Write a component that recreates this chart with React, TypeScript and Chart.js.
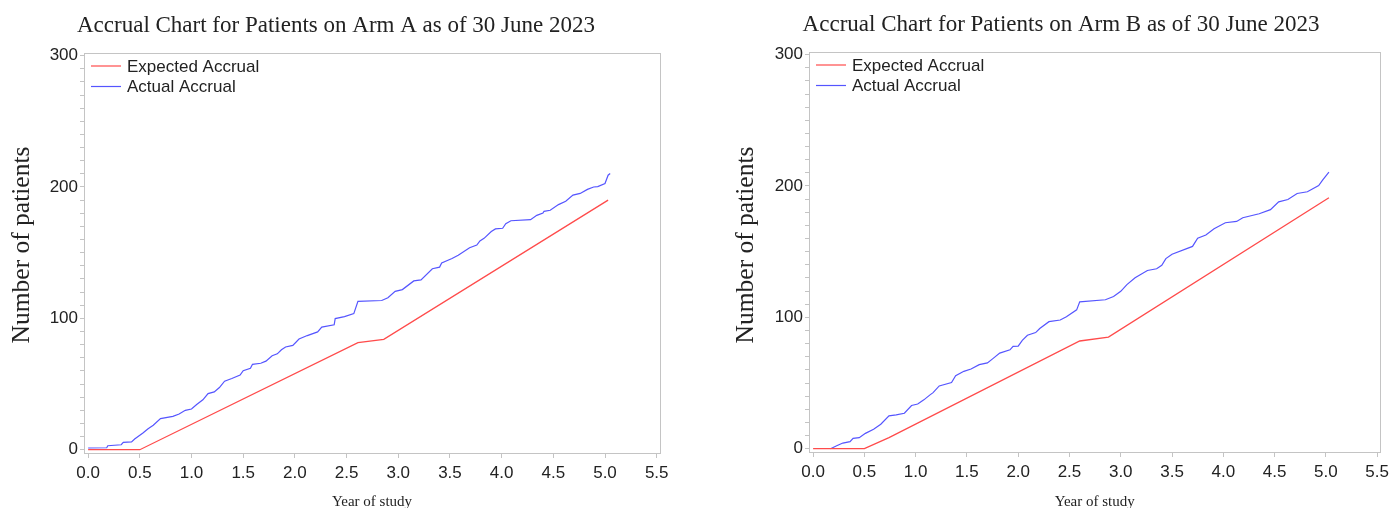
import React, { useEffect, useRef } from "react";
import { Chart, registerables } from "chart.js";

Chart.register(...registerables);

// ---------- data ----------
const titleA = "Accrual Chart for Patients on Arm A as of 30 June 2023";
const titleB = "Accrual Chart for Patients on Arm B as of 30 June 2023";
const legendLabels = ["Expected Accrual", "Actual Accrual"];
const xAxisTitle = "Year of study";
const yAxisTitle = "Number of patients";

const xTickValues = [0, 0.5, 1, 1.5, 2, 2.5, 3, 3.5, 4, 4.5, 5, 5.5];
const yTickValues = [
  0, 10, 20, 30, 40, 50, 60, 70, 80, 90, 100, 110, 120, 130, 140, 150, 160, 170, 180, 190, 200,
  210, 220, 230, 240, 250, 260, 270, 280, 290, 300,
];
const yLabelValues = [0, 100, 200, 300];

const armAExpectedYears = [0, 0.5, 2.61, 2.86, 5.03];
const armAExpectedCounts = [0, 0, 81.5, 84, 190];

const armAActualYears = [
  0.0, 0.18, 0.19, 0.32, 0.34, 0.42, 0.45, 0.53, 0.58, 0.63, 0.7, 0.82, 0.88, 0.94, 1.0, 1.05,
  1.11, 1.16, 1.22, 1.27, 1.32, 1.39, 1.47, 1.5, 1.57, 1.59, 1.67, 1.72, 1.78, 1.83, 1.87, 1.91,
  1.98, 2.04, 2.12, 2.22, 2.26, 2.38, 2.39, 2.48, 2.57, 2.61, 2.84, 2.9, 2.97, 3.04, 3.15, 3.22,
  3.33, 3.4, 3.42, 3.52, 3.58, 3.69, 3.76, 3.79, 3.83, 3.9, 3.94, 4.01, 4.04, 4.09, 4.28, 4.34,
  4.4, 4.41, 4.47, 4.55, 4.62, 4.69, 4.76, 4.83, 4.89, 4.93, 5.0, 5.03, 5.05,
];
const armAActualCounts = [
  1.3, 1.5, 3, 3.8, 5.6, 6, 8.1, 12.7, 16, 18.6, 23.7, 25.4, 27.2, 30, 31, 34.4,
  38, 42.7, 44, 47.3, 52.2, 54.2, 56.8, 60.2, 62, 65, 65.8, 67.4, 71.5, 73, 76.1, 78.2,
  79.4, 84.3, 86.9, 89.7, 93.3, 95.1, 99.8, 101.3, 103.6, 112.9, 113.6, 115.7, 120.6, 121.9, 128.5, 129.3,
  137.8, 139, 142.2, 145.5, 148.1, 153.7, 155.8, 158.9, 160.9, 166.1, 168.1, 168.6, 172, 174.3, 175.1, 178.4,
  180.2, 181.5, 182.3, 186.6, 189.2, 193.8, 195.1, 198.2, 200, 200.3, 202.6, 209, 210.3,
];

const armBExpectedYears = [0, 0.5, 0.74, 2.6, 2.88, 5.03];
const armBExpectedCounts = [0, 0, 8.5, 82, 85, 191];

const armBActualYears = [
  0.17, 0.23, 0.29, 0.36, 0.39, 0.45, 0.51, 0.59, 0.66, 0.74, 0.81, 0.89, 0.96, 1.02, 1.08, 1.14,
  1.17, 1.23, 1.35, 1.39, 1.47, 1.54, 1.62, 1.7, 1.75, 1.82, 1.92, 1.95, 2.0, 2.04, 2.09, 2.17,
  2.21, 2.3, 2.41, 2.47, 2.57, 2.6, 2.85, 2.93, 3.0, 3.06, 3.14, 3.26, 3.35, 3.4, 3.44, 3.5,
  3.7, 3.75, 3.83, 3.91, 4.02, 4.13, 4.19, 4.35, 4.46, 4.54, 4.63, 4.72, 4.82, 4.93, 4.97, 5.03,
];
const armBActualCounts = [
  0, 2.3, 4.3, 5.4, 7.9, 8.4, 11.7, 14.8, 18.6, 25, 25.8, 27, 32.9, 34, 37.2, 41,
  42.7, 47.8, 50.4, 55.5, 58.9, 60.7, 64, 65.3, 68.4, 72.8, 75.3, 77.9, 78.1, 82.5, 86.4, 88.4,
  91.5, 96.7, 98, 100.5, 105.7, 111.8, 113.4, 115.9, 119.8, 124.9, 130.1, 135.7, 137, 139.6, 144.7, 148.1,
  154, 160.2, 162.7, 167.4, 172, 173, 175.8, 178.9, 182, 187.9, 189.7, 194.3, 195.6, 200.3, 204.6, 210.5,
];

// ---------- style ----------
const SANS = '"Liberation Sans", Arial, sans-serif';
const SERIF = '"Liberation Serif", "Times New Roman", serif';
const RED = "rgb(255,75,75)";
const BLUE = "rgb(85,85,255)";
const AXIS = "#c4c4c4";
const TEXT = "#222222";

type PanelSpec = {
  title: string;
  expX: number[];
  expY: number[];
  actX: number[];
  actY: number[];
  width: number;
  left: number;
  yAxisWidth: number;
  xAxisHeight: number;
  padTop: number;
  padRight: number;
  titleX: number;
  titleY: number;
};

function toPoints(xs: number[], ys: number[]) {
  return xs.map((x, i) => ({ x, y: ys[i] }));
}

function Panel({ spec }: { spec: PanelSpec }) {
  const ref = useRef<HTMLCanvasElement | null>(null);
  useEffect(() => {
    if (!ref.current) return;
    const decor = {
      id: "decor",
      afterDraw(chart: any) {
        const { ctx, chartArea } = chart;
        ctx.save();
        // frame
        ctx.strokeStyle = AXIS;
        ctx.lineWidth = 1;
        ctx.strokeRect(
          Math.round(chartArea.left) + 0.5,
          Math.round(chartArea.top) + 0.5,
          Math.round(chartArea.right - chartArea.left),
          Math.round(chartArea.bottom - chartArea.top)
        );
        // title
        ctx.fillStyle = TEXT;
        ctx.font = `23px ${SERIF}`;
        ctx.textAlign = "center";
        ctx.textBaseline = "alphabetic";
        ctx.fillText(spec.title, spec.titleX, spec.titleY);
        // y-axis title
        ctx.save();
        ctx.translate(22, 245);
        ctx.rotate(-Math.PI / 2);
        ctx.font = `25.5px ${SERIF}`;
        ctx.textAlign = "center";
        ctx.textBaseline = "middle";
        ctx.fillText(yAxisTitle, 0, 0);
        ctx.restore();
        // legend
        const colors = [RED, BLUE];
        ctx.font = `17px ${SANS}`;
        ctx.textAlign = "left";
        ctx.textBaseline = "middle";
        legendLabels.forEach((lab, i) => {
          const y = chartArea.top + 13 + i * 20.5;
          ctx.strokeStyle = colors[i];
          ctx.lineWidth = 1.2;
          ctx.beginPath();
          ctx.moveTo(chartArea.left + 7, y);
          ctx.lineTo(chartArea.left + 37, y);
          ctx.stroke();
          ctx.fillStyle = TEXT;
          ctx.fillText(lab, chartArea.left + 43, y + 1);
        });
        ctx.restore();
      },
    };
    const chart = new Chart(ref.current, {
      type: "line",
      data: {
        datasets: [
          {
            label: legendLabels[0],
            data: toPoints(spec.expX, spec.expY),
            borderColor: RED,
            borderWidth: 1.3,
            pointRadius: 0,
            tension: 0,
            fill: false,
          },
          {
            label: legendLabels[1],
            data: toPoints(spec.actX, spec.actY),
            borderColor: BLUE,
            borderWidth: 1.2,
            pointRadius: 0,
            tension: 0,
            fill: false,
          },
        ],
      },
      options: {
        animation: false,
        responsive: false,
        layout: { padding: { top: spec.padTop, right: spec.padRight, left: 0, bottom: 0 } },
        plugins: { legend: { display: false }, title: { display: false }, tooltip: { enabled: false } },
        scales: {
          x: {
            type: "linear",
            min: -0.04,
            max: 5.532,
            afterBuildTicks: (s: any) => {
              s.ticks = xTickValues.map((v) => ({ value: v }));
            },
            afterFit: (s: any) => {
              s.height = spec.xAxisHeight;
            },
            border: { display: true, color: AXIS },
            grid: { drawOnChartArea: false, drawTicks: true, tickLength: 5, color: AXIS },
            ticks: {
              autoSkip: false,
              maxRotation: 0,
              padding: 5,
              color: TEXT,
              font: { family: SANS, size: 17 },
              callback: (v: any) => Number(v).toFixed(1),
            },
            title: {
              display: true,
              text: xAxisTitle,
              color: TEXT,
              font: { family: SERIF, size: 15, lineHeight: 1 },
              padding: { top: 0, bottom: -2 },
            },
          },
          y: {
            type: "linear",
            min: -2.5,
            max: 302,
            afterBuildTicks: (s: any) => {
              s.ticks = yTickValues.map((v) => ({ value: v }));
            },
            afterFit: (s: any) => {
              s.width = spec.yAxisWidth;
            },
            border: { display: true, color: AXIS },
            grid: { drawOnChartArea: false, drawTicks: true, tickLength: 4, color: AXIS },
            ticks: {
              autoSkip: false,
              padding: 2,
              color: TEXT,
              font: { family: SANS, size: 17 },
              callback: (v: any) => (yLabelValues.includes(Number(v)) ? String(v) : ""),
            },
            title: { display: false },
          },
        },
      },
      plugins: [decor],
    } as any);
    return () => chart.destroy();
  }, [spec]);
  return (
    <canvas
      ref={ref}
      width={spec.width}
      height={508}
      style={{ position: "absolute", left: spec.left, top: 0, width: spec.width, height: 508, display: "block" }}
    />
  );
}

const panelA: PanelSpec = {
  title: titleA,
  expX: armAExpectedYears,
  expY: armAExpectedCounts,
  actX: armAActualYears,
  actY: armAActualCounts,
  width: 724,
  left: 0,
  yAxisWidth: 84,
  xAxisHeight: 55,
  padTop: 53,
  padRight: 64,
  titleX: 336,
  titleY: 32,
};

const panelB: PanelSpec = {
  title: titleB,
  expX: armBExpectedYears,
  expY: armBExpectedCounts,
  actX: armBActualYears,
  actY: armBActualCounts,
  width: 670,
  left: 724,
  yAxisWidth: 85,
  xAxisHeight: 56,
  padTop: 52,
  padRight: 11,
  titleX: 337,
  titleY: 31,
};

export default function App() {
  return (
    <div style={{ position: "fixed", left: 0, top: 0, width: 1394, height: 508, background: "#fff", overflow: "hidden" }}>
      <Panel spec={panelA} />
      <Panel spec={panelB} />
    </div>
  );
}
